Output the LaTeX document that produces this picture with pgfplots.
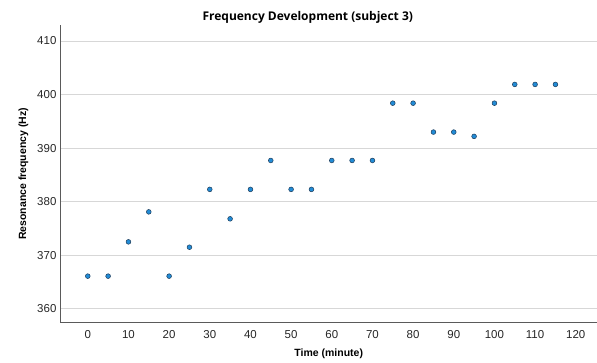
\documentclass[border=0pt]{standalone}
\usepackage{pgfplots}
\pgfplotsset{compat=1.18}
\usepackage{fontspec}
\setmainfont{Liberation Sans}
\newfontfamily\titlefont{Open Sans}
\definecolor{ptfill}{RGB}{34,140,214}
\definecolor{ptedge}{RGB}{30,60,90}
\definecolor{gridc}{RGB}{215,215,215}
\definecolor{axc}{RGB}{90,90,90}
\begin{document}
\begin{tikzpicture}
\path (-61pt,-40pt) rectangle (536pt,323pt);
\begin{axis}[
  at={(0,0)}, anchor=south west,
  scale only axis, width=536pt, height=298pt,
  xmin=-6.6, xmax=125.1, ymin=357.4, ymax=413,
  axis x line*=bottom, axis y line*=left,
  axis line style={axc, line width=1pt},
  xtick={0,10,...,120}, ytick={360,370,...,410},
  major tick length=0pt,
  ymajorgrids, grid style={gridc, line width=0.8pt},
  tick label style={font=\fontsize{11.5}{13}\selectfont, text=black!85},
  /pgf/number format/assume math mode=true,
  xticklabel style={yshift=-4pt},
  yticklabel style={xshift=-1pt},
  title={\titlefont\bfseries Frequency Development (subject 3)},
  title style={font=\fontsize{12}{14}\selectfont, yshift=-8pt, xshift=-21pt},
  xlabel={\textbf{Time (minute)}},
  ylabel={\textbf{Resonance frequency (Hz)}},
  label style={font=\fontsize{10.5}{12}\selectfont},
  xlabel style={yshift=-4pt},
  ylabel style={yshift=2pt},
  clip=false,
]
\addplot[only marks, mark=*, mark size=2.4pt, mark options={fill=ptfill, draw=ptedge, line width=0.5pt}] coordinates {
(0,366.1) (5,366.1) (10,372.5) (15,378.1) (20,366.1) (25,371.5)
(30,382.3) (35,376.8) (40,382.3) (45,387.7) (50,382.3) (55,382.3)
(60,387.7) (65,387.7) (70,387.7) (75,398.4) (80,398.4) (85,393.0)
(90,393.0) (95,392.2) (100,398.4) (105,401.9) (110,401.9) (115,401.9)
};
\end{axis}
\end{tikzpicture}
\end{document}
